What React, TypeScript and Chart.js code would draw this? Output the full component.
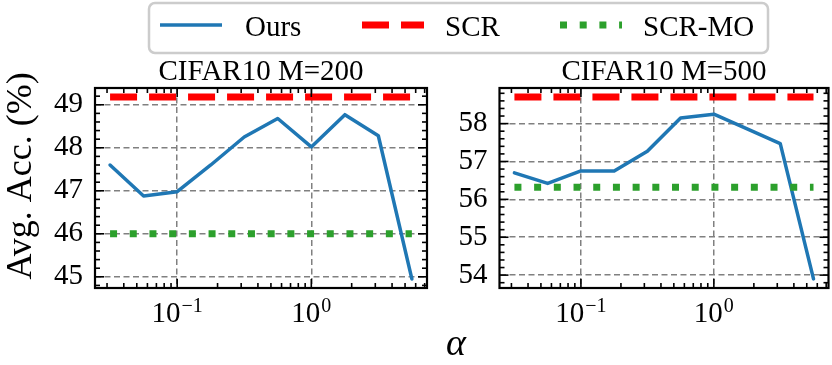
import React, { useEffect, useRef } from 'react';
import { Chart, registerables } from 'chart.js';

Chart.register(...registerables);

// ---------- data ----------
const alphas = [0.0316, 0.0562, 0.1, 0.178, 0.316, 0.562, 1, 1.78, 3.16, 5.62];

const ours200 = [47.6, 46.88, 46.98, 47.6, 48.25, 48.68, 48.02, 48.77, 48.28, 44.95];
const scr200 = [49.18, 49.18, 49.18, 49.18, 49.18, 49.18, 49.18, 49.18, 49.18, 49.18];
const scrmo200 = [46.0, 46.0, 46.0, 46.0, 46.0, 46.0, 46.0, 46.0, 46.0, 46.0];

const ours500 = [56.7, 56.42, 56.75, 56.75, 57.27, 58.15, 58.25, 57.86, 57.47, 53.9];
const scr500 = [58.7, 58.7, 58.7, 58.7, 58.7, 58.7, 58.7, 58.7, 58.7, 58.7];
const scrmo500 = [56.32, 56.32, 56.32, 56.32, 56.32, 56.32, 56.32, 56.32, 56.32, 56.32];

const yTicks200 = [45, 46, 47, 48, 49];
const yTicks500 = [54, 55, 56, 57, 58];
const yRange200 = [44.74, 49.39];
const yRange500 = [53.66, 58.94];

const xRange = [0.0244, 7.287];
const xTickValues = [0.1, 1];
const xTickExponents = ['\u22121', '0'];

const seriesLabels = ['Ours', 'SCR', 'SCR-MO'];
const titles = ['CIFAR10 M=200', 'CIFAR10 M=500'];
const yAxisLabel = 'Avg. Acc. (%)';
const xAxisLabel = '\u03B1';

// ---------- styling ----------
const FONT = '"Liberation Serif", "Times New Roman", serif';
const COLORS = ['#1f77b4', '#ff0000', '#2ca02c'];
const W = 832;
const H = 365;
const PLOT_TOP = 88;
const PLOT_BOTTOM = 288;
const YAXIS_W = 70;
const GRID = { color: '#808080', lineWidth: 1.5, drawTicks: false };
const GRID_DASH = [6, 3.5];

function makeDatasets(ours: number[], scr: number[], scrmo: number[]) {
  return [
    {
      label: seriesLabels[0],
      data: alphas.map((a, i) => ({ x: a, y: ours[i] })),
      borderColor: COLORS[0],
      borderWidth: 3.5,
      borderJoinStyle: 'round',
      borderCapStyle: 'round',
      pointRadius: 0,
      tension: 0,
      fill: false,
      order: 3,
    },
    {
      label: seriesLabels[1],
      data: alphas.map((a, i) => ({ x: a, y: scr[i] })),
      borderColor: COLORS[1],
      borderWidth: 7,
      borderDash: [27, 12],
      borderCapStyle: 'butt',
      pointRadius: 0,
      fill: false,
      order: 2,
    },
    {
      label: seriesLabels[2],
      data: alphas.map((a, i) => ({ x: a, y: scrmo[i] })),
      borderColor: COLORS[2],
      borderWidth: 7,
      borderDash: [7, 12.7],
      borderCapStyle: 'butt',
      pointRadius: 0,
      fill: false,
      order: 1,
    },
  ];
}

function decoPlugin(withShared: boolean) {
  return {
    id: 'deco' + (withShared ? 'A' : 'B'),
    afterDraw(chart: any) {
      const { ctx, chartArea: a, scales } = chart;
      const xs = scales.x;
      const ys = scales.y;
      ctx.save();
      ctx.strokeStyle = '#000';
      ctx.lineWidth = 1.6;
      const line = (x1: number, y1: number, x2: number, y2: number) => {
        ctx.beginPath();
        ctx.moveTo(x1, y1);
        ctx.lineTo(x2, y2);
        ctx.stroke();
      };
      // x ticks (major + minor), inward on bottom and top
      for (let e = -2; e <= 1; e++) {
        for (let m = 1; m <= 9; m++) {
          const v = m * Math.pow(10, e);
          if (v < xs.min || v > xs.max) continue;
          const px = xs.getPixelForValue(v);
          const len = m === 1 ? 9 : 5;
          line(px, a.bottom, px, a.bottom - len);
          line(px, a.top, px, a.top + len);
        }
      }
      // y ticks major + minor (0.2)
      const start = Math.floor(ys.min);
      for (let k = 0; start + k * 0.2 <= ys.max + 1e-9; k++) {
        const v = start + k * 0.2;
        if (v < ys.min) continue;
        const py = ys.getPixelForValue(v);
        const major = k % 5 === 0;
        const len = major ? 9 : 5;
        line(a.left, py, a.left + len, py);
        line(a.right, py, a.right - len, py);
      }
      // frame
      ctx.lineWidth = 2.2;
      ctx.strokeRect(a.left, a.top, a.right - a.left, a.bottom - a.top);

      // x tick labels 10^e
      ctx.fillStyle = '#000';
      ctx.textBaseline = 'alphabetic';
      ctx.textAlign = 'left';
      xTickValues.forEach((v, i) => {
        const px = xs.getPixelForValue(v);
        ctx.font = `29px ${FONT}`;
        const wb = ctx.measureText('10').width;
        ctx.font = `20px ${FONT}`;
        const we = ctx.measureText(xTickExponents[i]).width;
        const x0 = px - (wb + we + 1) / 2;
        ctx.font = `29px ${FONT}`;
        ctx.fillText('10', x0, a.bottom + 34);
        ctx.font = `20px ${FONT}`;
        ctx.fillText(xTickExponents[i], x0 + wb + 1, a.bottom + 24);
      });

      if (withShared) {
        // y axis label
        ctx.save();
        ctx.translate(31, 176);
        ctx.rotate(-Math.PI / 2);
        ctx.textAlign = 'center';
        ctx.font = `36px ${FONT}`;
        ctx.fillText(yAxisLabel, 0, 0);
        ctx.restore();

        // x axis label
        ctx.textAlign = 'center';
        ctx.font = `italic 38px ${FONT}`;
        ctx.fillText(xAxisLabel, 456, 355);

        // legend
        ctx.save();
        ctx.fillStyle = 'rgba(255,255,255,0.9)';
        ctx.strokeStyle = '#cccccc';
        ctx.lineWidth = 2.5;
        ctx.beginPath();
        if ((ctx as any).roundRect) (ctx as any).roundRect(149, 3, 619, 50, 6);
        else ctx.rect(149, 3, 619, 50);
        ctx.fill();
        ctx.stroke();
        ctx.restore();

        const items = chart.data.datasets;
        const handleX = [160, 362, 560];
        const textX = [245, 445, 643];
        items.forEach((ds: any, i: number) => {
          ctx.save();
          ctx.strokeStyle = ds.borderColor;
          ctx.lineWidth = ds.borderWidth;
          ctx.lineCap = ds.borderCapStyle === 'round' ? 'butt' : ds.borderCapStyle;
          ctx.setLineDash(ds.borderDash || []);
          ctx.beginPath();
          ctx.moveTo(handleX[i], 25);
          ctx.lineTo(handleX[i] + 62, 25);
          ctx.stroke();
          ctx.restore();
          ctx.fillStyle = '#000';
          ctx.textAlign = 'left';
          ctx.font = `29px ${FONT}`;
          ctx.fillText(ds.label, textX[i], 36);
        });
      }
      ctx.restore();
    },
  };
}

function makeConfig(
  idx: number,
  left: number,
  right: number,
  datasets: any[],
  yRange: number[],
  yTicks: number[],
): any {
  return {
    type: 'line',
    data: { datasets },
    options: {
      responsive: false,
      animation: false,
      devicePixelRatio: 1,
      layout: {
        padding: { left: left - YAXIS_W, right: W - right, top: PLOT_TOP - 31.9, bottom: H - PLOT_BOTTOM - 77 },
      },
      plugins: {
        legend: { display: false },
        tooltip: { enabled: false },
        title: {
          display: true,
          text: titles[idx],
          color: '#000',
          font: { family: FONT, size: 29, weight: 'normal', lineHeight: 1.1 },
          padding: 0,
          fullSize: false,
        },
      },
      scales: {
        x: {
          type: 'logarithmic',
          min: xRange[0],
          max: xRange[1],
          afterBuildTicks: (s: any) => {
            s.ticks = xTickValues.map((v) => ({ value: v }));
          },
          afterFit: (s: any) => {
            s.height = 77;
          },
          ticks: { display: false },
          grid: GRID,
          border: { display: false, dash: GRID_DASH },
        },
        y: {
          type: 'linear',
          min: yRange[0],
          max: yRange[1],
          afterBuildTicks: (s: any) => {
            s.ticks = yTicks.map((v) => ({ value: v }));
          },
          afterFit: (s: any) => {
            s.width = YAXIS_W;
          },
          ticks: { color: '#000', font: { family: FONT, size: 29 }, padding: 12 },
          grid: GRID,
          border: { display: false, dash: GRID_DASH },
        },
      },
    },
    plugins: [decoPlugin(idx === 0)],
  };
}

export default function App() {
  const ref1 = useRef<HTMLCanvasElement>(null);
  const ref2 = useRef<HTMLCanvasElement>(null);

  useEffect(() => {
    const c1 = new Chart(
      ref1.current as HTMLCanvasElement,
      makeConfig(0, 95, 427, makeDatasets(ours200, scr200, scrmo200), yRange200, yTicks200),
    );
    const c2 = new Chart(
      ref2.current as HTMLCanvasElement,
      makeConfig(1, 499.5, 828.5, makeDatasets(ours500, scr500, scrmo500), yRange500, yTicks500),
    );
    return () => {
      c1.destroy();
      c2.destroy();
    };
  }, []);

  const cs: React.CSSProperties = { position: 'absolute', left: 0, top: 0, width: W, height: H };
  return (
    <div style={{ position: 'absolute', left: 0, top: 0, width: W, height: H, background: '#fff' }}>
      <canvas ref={ref1} width={W} height={H} style={cs} />
      <canvas ref={ref2} width={W} height={H} style={cs} />
    </div>
  );
}
